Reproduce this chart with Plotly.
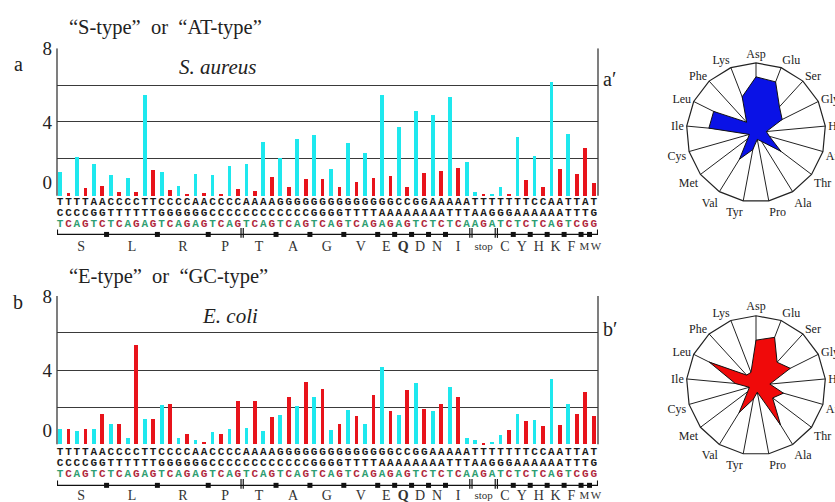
import plotly.graph_objects as go

W, H = 835, 502

# ---------------- data ----------------
codons = ["TCT", "TCC", "TCA", "TCG", "AGT", "AGC",
          "CTT", "CTC", "CTA", "CTG", "TTA", "TTG",
          "CGT", "CGC", "CGA", "CGG", "AGA", "AGG",
          "CCT", "CCC", "CCA", "CCG",
          "ACT", "ACC", "ACA", "ACG",
          "GCT", "GCC", "GCA", "GCG",
          "GGT", "GGC", "GGA", "GGG",
          "GTT", "GTC", "GTA", "GTG",
          "GAA", "GAG", "CAA", "CAG", "GAT", "GAC", "AAT", "AAC",
          "ATT", "ATC", "ATA", "TAA", "TAG", "TGA",
          "TGT", "TGC", "TAT", "TAC", "CAT", "CAC", "AAA", "AAG",
          "TTT", "TTC", "ATG", "TGG"]

groups = ["S", "L", "R", "P", "T", "A", "G", "V", "E", "Q", "D", "N", "I",
          "stop", "C", "Y", "H", "K", "F", "M", "W"]
group_sizes = [6, 6, 6, 4, 4, 4, 4, 4, 2, 2, 2, 2, 3, 3, 2, 2, 2, 2, 2, 1, 1]

s_aureus = [1.25, 0.16, 2.07, 0.40, 1.70, 0.53,
            1.13, 0.18, 0.95, 0.20, 5.45, 1.38,
            1.30, 0.30, 0.50, 0.03, 1.18, 0.12,
            1.13, 0.07, 1.60, 0.36,
            1.70, 0.22, 2.90, 0.98,
            2.04, 0.47, 3.07, 0.90,
            3.30, 0.90, 1.45, 0.44,
            2.85, 0.73, 2.30, 0.95,
            5.45, 1.07, 3.70, 0.47, 4.60, 1.24, 4.35, 1.31,
            5.36, 1.49, 1.82, 0.18, 0.03, 0.05,
            0.45, 0.10, 3.16, 0.82, 2.13, 0.47, 6.15, 1.44,
            3.36, 1.18, 2.58, 0.70]

e_coli = [0.82, 0.82, 0.71, 0.84, 0.82, 1.62,
          1.09, 1.11, 0.36, 5.35, 1.38, 1.38,
          2.10, 2.20, 0.36, 0.53, 0.22, 0.15,
          0.69, 0.56, 0.84, 2.36,
          0.87, 2.36, 0.73, 1.45,
          1.56, 2.55, 2.07, 3.36,
          2.53, 3.00, 0.76, 1.07,
          1.85, 1.55, 1.09, 2.67,
          4.16, 1.80, 1.60, 2.95, 3.30, 1.93, 1.78, 2.18,
          3.07, 2.53, 0.36, 0.25, 0.09, 0.11,
          0.51, 0.76, 1.65, 1.24, 1.33, 0.96, 3.50, 1.05,
          2.20, 1.65, 2.80, 1.53]

y_ticks = ["0", "4", "8"]

aa_labels = ["Asp", "Glu", "Ser", "Gly", "His", "Arg", "Thr", "Ala", "Pro",
             "Tyr", "Val", "Met", "Cys", "Ile", "Leu", "Phe", "Lys"]
s_aureus_radar = [0.80, 0.78, 0.50, 0.42, 0.15, 0.20, 0.45, 0.15, 0.10,
                  0.25, 0.45, 0.15, 0.10, 0.68, 0.68, 0.20, 0.55]
e_coli_radar = [0.65, 0.74, 0.45, 0.55, 0.20, 0.41, 0.30, 0.67, 0.10,
                0.20, 0.46, 0.15, 0.10, 0.30, 0.75, 0.20, 0.20]

# ---------------- style ----------------
CYAN = "#1EE8EE"
RED = "#E8131B"
GREEN_TXT = "#2E9E72"
RED_TXT = "#B0283C"
SERIF = "Liberation Serif"
MONO = "Liberation Mono"
GRID = "#3a3a3a"

fig = go.Figure()
xs = list(range(1, len(codons) + 1))
bar_col = [CYAN if c[2] in "AT" else RED for c in codons]

# group centres and boundaries
centres, bounds = [], []
start = 1
for n in group_sizes:
    centres.append(start + (n - 1) / 2)
    start += n
    bounds.append(start - 0.5)
bounds = bounds[:-1]
double_bounds = [22.5, 49.5, 52.5]
square_bounds = [b for b in bounds if b not in double_bounds]
# small nudges so the crowded last labels (F, M, W) do not collide
label_nudge = {"F": -0.15, "M": -0.1, "W": 0.25}
label_x = [c + label_nudge.get(g, 0) for c, g in zip(centres, groups)]
label_size = [11 if g == "stop" else (11 if g in ("M", "W") else 14) for g in groups]

panels = [
    dict(vals=s_aureus, xa="x", ya="y", base=189.5, top=39.0, bottom=252.0,
         rows=[196.5, 207.5, 218.5], bracket=229.0, labels=242.0),
    dict(vals=e_coli, xa="x2", ya="y2", base=443.0, top=291.7, bottom=502.0,
         rows=[451.5, 462.5, 473.5], bracket=485.0, labels=496.0),
]

XR = [0.65, 64.5]
X_LEFT, X_RIGHT = 57.0, 598.0
shapes = []
for p in panels:
    pxu = (p["base"] - p["top"]) / 8.0

    def dy(py, p=p, pxu=pxu):
        return (p["base"] - py) / pxu

    p["ymin"] = dy(p["bottom"])
    fig.add_trace(go.Bar(x=xs, y=p["vals"], marker=dict(color=bar_col, line=dict(width=0)),
                         width=0.44, xaxis=p["xa"], yaxis=p["ya"], showlegend=False))
    # codon letter rows
    for k in range(3):
        letters = [c[k] for c in codons]
        if k < 2:
            cols = "#1a1a1a"
        else:
            cols = [GREEN_TXT if l in "AT" else RED_TXT for l in letters]
        fig.add_trace(go.Scatter(x=xs, y=[dy(p["rows"][k])] * len(xs), mode="text",
                                 text=["<b>%s</b>" % l for l in letters],
                                 textfont=dict(family=MONO, size=11, color=cols),
                                 cliponaxis=False, xaxis=p["xa"], yaxis=p["ya"],
                                 showlegend=False, hoverinfo="skip"))
    # group labels
    fig.add_trace(go.Scatter(x=label_x, y=[dy(p["labels"])] * len(centres), mode="text",
                             text=["<b>Q</b>" if g == "Q" else g for g in groups],
                             textfont=dict(family=SERIF, size=label_size, color="#333"),
                             cliponaxis=False, xaxis=p["xa"], yaxis=p["ya"],
                             showlegend=False, hoverinfo="skip"))
    # boundary squares
    fig.add_trace(go.Scatter(x=square_bounds, y=[dy(p["bracket"])] * len(square_bounds), mode="markers",
                             marker=dict(symbol="square", size=5, color="#111"),
                             cliponaxis=False, xaxis=p["xa"], yaxis=p["ya"],
                             showlegend=False, hoverinfo="skip"))
    dbx = []
    for b in double_bounds:
        dbx += [b - 0.13, b + 0.13]
    fig.add_trace(go.Scatter(x=dbx, y=[dy(p["bracket"] - 1.5)] * len(dbx), mode="markers",
                             marker=dict(symbol="line-ns", size=7, line=dict(width=1.2, color="#111")),
                             cliponaxis=False, xaxis=p["xa"], yaxis=p["ya"],
                             showlegend=False, hoverinfo="skip"))
    # bracket
    yb = dy(p["bracket"])
    yt = dy(p["bracket"] - 5)
    shapes.append(dict(type="path", xref=p["xa"], yref=p["ya"],
                       path="M %f,%f L %f,%f L %f,%f L %f,%f" % (XR[0] + 0.05, yt, XR[0] + 0.05, yb,
                                                               XR[1] - 0.05, yb, XR[1] - 0.05, yt),
                       line=dict(color="#111", width=1.3)))
    # left / right frame lines (0..8 only)
    for xp in (X_LEFT, X_RIGHT):
        shapes.append(dict(type="line", xref="paper", yref=p["ya"], x0=xp / W, x1=xp / W, y0=0, y1=8,
                           line=dict(color=GRID, width=1.3)))

# ---------------- radar charts ----------------
theta = aa_labels + [aa_labels[0]]
fig.add_trace(go.Scatterpolar(r=s_aureus_radar + [s_aureus_radar[0]], theta=theta, fill="toself",
                              fillcolor="#0A12E6", line=dict(color="#111", width=1),
                              mode="lines", subplot="polar", showlegend=False))
fig.add_trace(go.Scatterpolar(r=[0], theta=[aa_labels[0]], mode="markers",
                              marker=dict(color="#000", size=7), subplot="polar", showlegend=False))
fig.add_trace(go.Scatterpolar(r=e_coli_radar + [e_coli_radar[0]], theta=theta, fill="toself",
                              fillcolor="#F00A0A", line=dict(color="#111", width=1),
                              mode="lines", subplot="polar2", showlegend=False))
fig.add_trace(go.Scatterpolar(r=[0], theta=[aa_labels[0]], mode="markers",
                              marker=dict(color="#000", size=7), subplot="polar2", showlegend=False))

polar_common = dict(
    bgcolor="white", gridshape="linear",
    radialaxis=dict(visible=False, range=[0, 1]),
    angularaxis=dict(direction="clockwise", rotation=90, categoryorder="array",
                     categoryarray=aa_labels, showgrid=True, gridcolor="#222", gridwidth=1,
                     showline=True, linecolor="#222", linewidth=1.2, ticks="",
                     tickfont=dict(family=SERIF, size=12, color="#222")),
)


def yax(p, anchor):
    return dict(domain=[1 - p["bottom"] / H, 1 - p["top"] / H], range=[p["ymin"], 8],
                tickvals=[0.75, 4, 8], ticktext=y_ticks,
                showgrid=False, zeroline=False, showline=False,
                ticks="", ticklabelstandoff=4, anchor=anchor,
                tickfont=dict(family=SERIF, size=19, color="#222"),
                minor=dict(tickvals=[2, 4, 6, 8], showgrid=True, gridcolor=GRID, gridwidth=1.3, ticks=""))


def xax(anchor):
    return dict(domain=[X_LEFT / W, X_RIGHT / W], range=XR, showticklabels=False, showgrid=False,
                zeroline=False, showline=False, ticks="", anchor=anchor)


def ann(text, px, py, size=18, xanchor="center", **kw):
    return dict(text=text, x=px / W, y=1 - py / H, xref="paper", yref="paper", showarrow=False,
                xanchor=xanchor, yanchor="middle", font=dict(family=SERIF, size=size, color="#222"), **kw)


annotations = [
    ann("\u201cS-type\u201d  or  \u201cAT-type\u201d", 67, 18, 20.5, "left"),
    ann("\u201cE-type\u201d  or  \u201cGC-type\u201d", 67, 272, 20.5, "left"),
    ann("a", 18, 55, 20),
    ann("b", 18, 298, 20),
    ann("<i>S. aureus</i>", 217, 58, 21),
    ann("<i>E. coli</i>", 230, 312, 21),
    ann("a\u2032", 601, 70, 20, "left"),
    ann("b\u2032", 601, 325, 20, "left"),
]


def pdom(cx, cy, r):
    return dict(x=[(cx - r) / W, (cx + r) / W], y=[1 - (cy + r) / H, 1 - (cy - r) / H])


fig.update_layout(
    width=W, height=H, autosize=False,
    margin=dict(l=0, r=0, t=0, b=0),
    paper_bgcolor="white", plot_bgcolor="rgba(0,0,0,0)",
    bargap=0,
    xaxis=xax("y"), yaxis=yax(panels[0], "x"),
    xaxis2=xax("y2"), yaxis2=yax(panels[1], "x2"),
    polar=dict(polar_common, domain=pdom(756, 125, 71)),
    polar2=dict(polar_common, domain=pdom(756, 383, 71)),
    shapes=shapes,
    annotations=annotations,
    showlegend=False,
)

post = ("document.body.style.margin='0';document.body.style.padding='0';"
        "document.body.style.overflow='hidden';"
        "var gd=document.getElementById('{plot_id}');"
        "gd.style.position='fixed';gd.style.left='0px';gd.style.top='0px';")
fig.write_html("out.html", post_script=post, config={"displayModeBar": False})
